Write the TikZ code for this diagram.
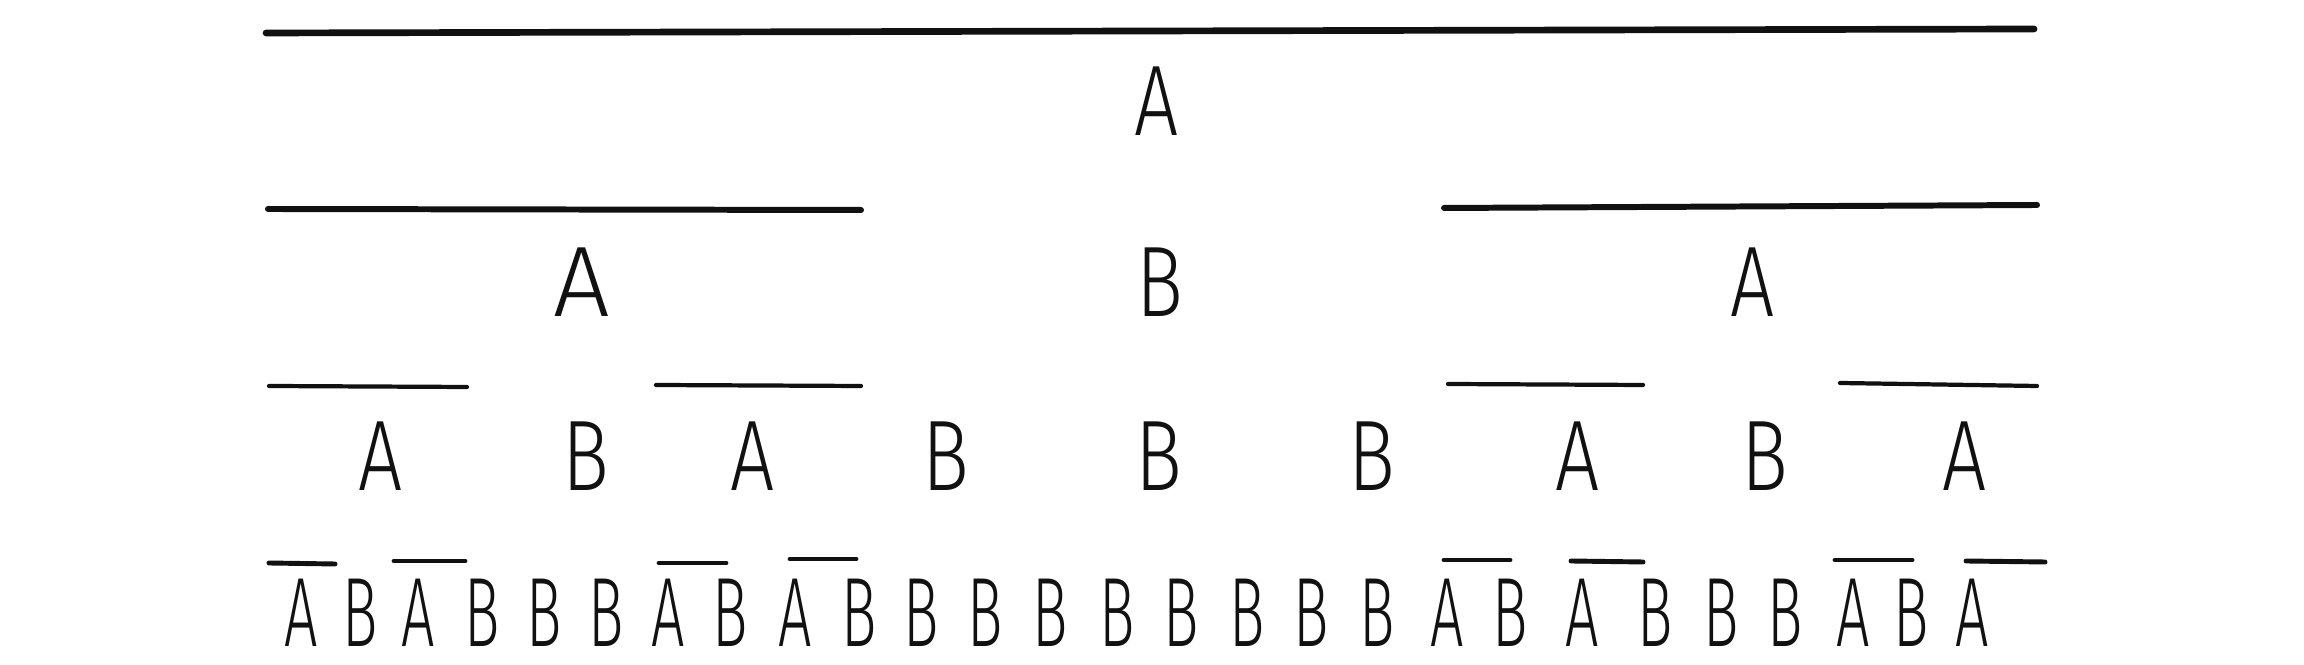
\documentclass[tikz,border=0pt]{standalone}
\usepackage{fontspec}
\newfontfamily\handwide[FakeStretch=0.78]{Fira Sans Light}
\newfontfamily\handwider[FakeStretch=1.0]{Fira Sans Light}
\newfontfamily\handnarrow[FakeStretch=0.6]{Fira Sans Light}
\definecolor{ink}{HTML}{111111}
\tikzset{
  bar/.style={draw=ink, line cap=round},
  bartop/.style={bar, line width=1.9pt},
  barmid/.style={bar, line width=1.7pt},
  barlow/.style={bar, line width=1.2pt},
  barbot/.style={bar, line width=1.4pt},
  ltr/.style={text=ink, inner sep=0pt, anchor=base, font=\handwide\fontsize{28.5}{28}\selectfont},
  ltrwide/.style={ltr, font=\handwider\fontsize{28.5}{28}\selectfont},
  ltrsmall/.style={text=ink, inner sep=0pt, anchor=base, font=\handnarrow\fontsize{28}{28}\selectfont}
}
\begin{document}
\begin{tikzpicture}[x={(0.01cm,0)}, y={(0,-0.01cm)}]
\useasboundingbox (0,0) rectangle (2304,665);
% row 1
\coordinate (t1a) at (266,33); \coordinate (t1b) at (2034,29);
\draw[bartop] (t1a) -- (t1b);
\node[ltr] (r1) at (1157,136) {A};
% row 2
\coordinate (t2a) at (268,209); \coordinate (t2b) at (861,210);
\coordinate (t2c) at (1444,208); \coordinate (t2d) at (2037,205);
\draw[barmid] (t2a) -- (t2b);
\draw[barmid] (t2c) -- (t2d);
\node[ltrwide] (r2-1) at (582,317) {A};
\node[ltr] (r2-2) at (1160,317) {B};
\node[ltr] (r2-3) at (1753,317) {A};
% row 3
\coordinate (t3a) at (269,386); \coordinate (t3b) at (467,387);
\coordinate (t3c) at (656,385); \coordinate (t3d) at (861,386);
\coordinate (t3e) at (1448,384); \coordinate (t3f) at (1643,385);
\coordinate (t3g) at (1840,383); \coordinate (t3h) at (2037,386);
\draw[barlow] (t3a) -- (t3b);
\draw[barlow] (t3c) -- (t3d);
\draw[barlow] (t3e) -- (t3f);
\draw[barlow] (t3g) -- (t3h);
\foreach \x/\l [count=\i] in {381/A,586/B,753/A,946/B,1159/B,1372/B,1578/A,1765/B,1965/A}
  \node[ltr] (r3-\i) at (\x,491) {\l};
% row 4
\coordinate (t4a) at (269,563); \coordinate (t4b) at (335,564);
\coordinate (t4c) at (394,561); \coordinate (t4d) at (465,561);
\coordinate (t4e) at (659,563); \coordinate (t4f) at (726,563);
\coordinate (t4g) at (790,559); \coordinate (t4h) at (856,559);
\coordinate (t4i) at (1444,560); \coordinate (t4j) at (1510,560);
\coordinate (t4k) at (1571,561); \coordinate (t4l) at (1643,562);
\coordinate (t4m) at (1835,560); \coordinate (t4n) at (1912,560);
\coordinate (t4o) at (1966,561); \coordinate (t4p) at (2045,562);
\draw[barbot] (t4a) -- (t4b);
\draw[barbot] (t4c) -- (t4d);
\draw[barbot] (t4e) -- (t4f);
\draw[barbot] (t4g) -- (t4h);
\draw[barbot] (t4i) -- (t4j);
\draw[barbot] (t4k) -- (t4l);
\draw[barbot] (t4m) -- (t4n);
\draw[barbot] (t4o) -- (t4p);
\foreach \x/\l [count=\i] in {301/A,360/B,418/A,482/B,544/B,606/B,668/A,730/B,795/A,859/B,921/B,985/B,1050/B,1117/B,1181/B,1247/B,1311/B,1377/B,1447/A,1510/B,1582/A,1655/B,1721/B,1785/B,1853/A,1911/B,1972/A}
  \node[ltrsmall] (r4-\i) at (\x,647) {\l};
\end{tikzpicture}
\end{document}
